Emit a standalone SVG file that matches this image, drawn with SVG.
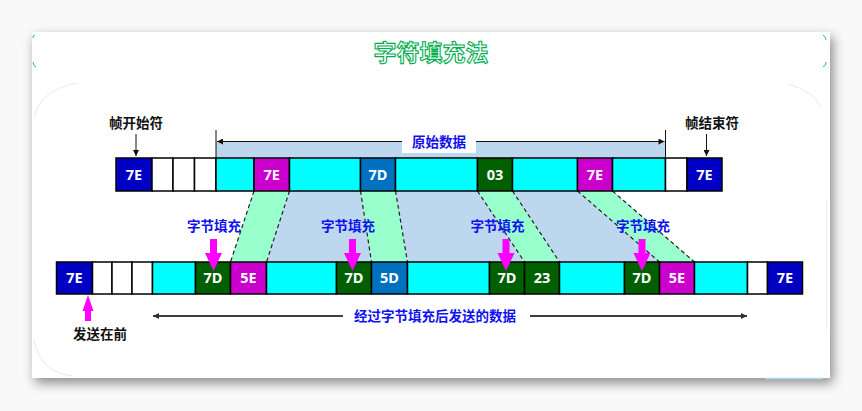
<svg xmlns="http://www.w3.org/2000/svg" width="862" height="411" viewBox="0 0 862 411">
<defs>
<style>
.cell{stroke:#000;stroke-width:1.5}
.w{fill:#fff}.c{fill:#00ffff}.b{fill:#0000c4}.b2{fill:#0070c0}.m{fill:#cc00cc}.g{fill:#006000}
.t{font-family:"Noto Sans","DejaVu Sans",sans-serif;font-weight:bold;font-size:14.5px;fill:#fff;text-anchor:middle}
.lbl{font-family:"Noto Sans CJK SC","Noto Sans",sans-serif;font-weight:bold;font-size:13.5px;text-anchor:middle}
.blk{fill:#111}
.blu{fill:#1010f0}
.dash{stroke:#222;stroke-width:1.2;stroke-dasharray:4 3;fill:none}
.pk{fill:#ff00ff}
</style>
<filter id="sh" x="-5%" y="-10%" width="112%" height="125%">
<feDropShadow dx="3" dy="5" stdDeviation="6" flood-color="#000" flood-opacity="0.45"/>
</filter>
<marker id="ah" viewBox="0 0 10 10" refX="10" refY="5" markerWidth="8" markerHeight="6" orient="auto-start-reverse" markerUnits="userSpaceOnUse">
<path d="M0,0 L10,5 L0,10 Z" fill="#111"/>
</marker>
<marker id="ah2" viewBox="0 0 10 10" refX="10" refY="5" markerWidth="9" markerHeight="6" orient="auto-start-reverse" markerUnits="userSpaceOnUse">
<path d="M0,0 L10,5 L0,10 Z" fill="#2a3038"/>
</marker>
</defs>
<rect x="0" y="0" width="862" height="411" fill="#f9f9f9"/>
<g id="panel">
<rect x="32" y="32" width="798" height="346" fill="#fff" filter="url(#sh)"/>
<path d="M35,35 Q32,36 33,38 M33,62 Q33,66 36,67 M823,35 Q826,37 826,40 M826,62 Q826,66 823,67" stroke="#20c070" stroke-width="1" fill="none"/>
<path d="M34,118 Q40,90 77,83 M788,84 Q815,92 820,106 M34,340 Q40,372 72,376" stroke="#e6eaf0" stroke-width="1" fill="none"/>
<line x1="765" y1="378.5" x2="823" y2="378.5" stroke="#a8d8f0" stroke-width="1.5"/>
<line x1="826.5" y1="200" x2="826.5" y2="330" stroke="#e4f0fa" stroke-width="1"/>
</g>
<g id="title">
<text x="431" y="61" font-family="Noto Sans CJK SC,sans-serif" font-weight="bold" font-size="23" text-anchor="middle" fill="#fff" stroke="#00b050" stroke-width="1.1">字符填充法</text>
</g>
<g id="connectors">
<polygon points="254,191 612.5,191 694.5,262 230.5,262" fill="#bdd7ee"/>
<polygon points="254,191 289.5,191 266.5,262 230.5,262" fill="#99ffcc"/>
<polygon points="360.5,191 395.5,191 407.5,262 371.5,262" fill="#99ffcc"/>
<polygon points="477.5,191 512.5,191 559.5,262 524.5,262" fill="#99ffcc"/>
<polygon points="577.5,191 612.5,191 694.5,262 659.5,262" fill="#99ffcc"/>
<path class="dash" d="M254,191 L230.5,262 M289.5,191 L266.5,262 M360.5,191 L371.5,262 M395.5,191 L407.5,262 M477.5,191 L524.5,262 M512.5,191 L559.5,262 M577.5,191 L659.5,262 M612.5,191 L694.5,262"/>
<rect x="216" y="141.5" width="449.5" height="16.5" fill="#bdd7ee"/>
<line x1="216" y1="130" x2="216" y2="158" stroke="#111" stroke-width="1"/>
<line x1="665.5" y1="130" x2="665.5" y2="158" stroke="#111" stroke-width="1"/>
<line x1="217" y1="141.5" x2="664.5" y2="141.5" stroke="#111" stroke-width="1" marker-start="url(#ah)" marker-end="url(#ah)"/>
<line x1="136" y1="134" x2="136" y2="156" stroke="#111" stroke-width="1" marker-end="url(#ah)"/>
<line x1="706.5" y1="134" x2="706.5" y2="156" stroke="#111" stroke-width="1" marker-end="url(#ah)"/>
<line x1="153" y1="316" x2="747" y2="316" stroke="#3a4048" stroke-width="2" marker-start="url(#ah2)" marker-end="url(#ah2)"/>
</g>
<g id="label-orig">
<rect x="402" y="133" width="74" height="20" fill="#fff"/>
<text class="lbl blu" x="439" y="147" font-size="14">原始数据</text>
</g>
<g id="label-start"><text class="lbl blk" x="136" y="128">帧开始符</text></g>
<g id="label-end"><text class="lbl blk" x="712" y="128">帧结束符</text></g>
<g id="top-row">
<rect class="cell b" x="116" y="158" width="36" height="33"/>
<rect class="cell w" x="152" y="158" width="21" height="33"/>
<rect class="cell w" x="173" y="158" width="21.5" height="33"/>
<rect class="cell w" x="194.5" y="158" width="21.5" height="33"/>
<rect class="cell c" x="216" y="158" width="38" height="33"/>
<rect class="cell m" x="254" y="158" width="35.5" height="33"/>
<rect class="cell c" x="289.5" y="158" width="71" height="33"/>
<rect class="cell b2" x="360.5" y="158" width="35" height="33"/>
<rect class="cell c" x="395.5" y="158" width="82" height="33"/>
<rect class="cell g" x="477.5" y="158" width="35" height="33"/>
<rect class="cell c" x="512.5" y="158" width="65" height="33"/>
<rect class="cell m" x="577.5" y="158" width="35" height="33"/>
<rect class="cell c" x="612.5" y="158" width="53" height="33"/>
<rect class="cell w" x="665.5" y="158" width="21.5" height="33"/>
<rect class="cell b" x="687" y="158" width="35" height="33"/>
<text class="t" x="134" y="179.5">7E</text>
<text class="t" x="271.8" y="179.5">7E</text>
<text class="t" x="378" y="179.5">7D</text>
<text class="t" x="495" y="179.5">03</text>
<text class="t" x="595" y="179.5">7E</text>
<text class="t" x="704.5" y="179.5">7E</text>
</g>
<g id="bottom-row">
<rect class="cell b" x="56.5" y="262" width="36" height="32"/>
<rect class="cell w" x="92.5" y="262" width="19.5" height="32"/>
<rect class="cell w" x="112" y="262" width="20" height="32"/>
<rect class="cell w" x="132" y="262" width="20.5" height="32"/>
<rect class="cell c" x="152.5" y="262" width="43" height="32"/>
<rect class="cell g" x="195.5" y="262" width="35" height="32"/>
<rect class="cell m" x="230.5" y="262" width="36" height="32"/>
<rect class="cell c" x="266.5" y="262" width="70" height="32"/>
<rect class="cell g" x="336.5" y="262" width="35" height="32"/>
<rect class="cell b2" x="371.5" y="262" width="36" height="32"/>
<rect class="cell c" x="407.5" y="262" width="82" height="32"/>
<rect class="cell g" x="489.5" y="262" width="35" height="32"/>
<rect class="cell g" x="524.5" y="262" width="35" height="32"/>
<rect class="cell c" x="559.5" y="262" width="65" height="32"/>
<rect class="cell g" x="624.5" y="262" width="35" height="32"/>
<rect class="cell m" x="659.5" y="262" width="35" height="32"/>
<rect class="cell c" x="694.5" y="262" width="53" height="32"/>
<rect class="cell w" x="747.5" y="262" width="20" height="32"/>
<rect class="cell b" x="767.5" y="262" width="35" height="32"/>
<text class="t" x="74.5" y="283">7E</text>
<text class="t" x="213" y="283">7D</text>
<text class="t" x="248.5" y="283">5E</text>
<text class="t" x="354" y="283">7D</text>
<text class="t" x="389.5" y="283">5D</text>
<text class="t" x="507" y="283">7D</text>
<text class="t" x="542" y="283">23</text>
<text class="t" x="642" y="283">7D</text>
<text class="t" x="677" y="283">5E</text>
<text class="t" x="785" y="283">7E</text>
</g>
<g id="stuff-1">
<text class="lbl blu" x="214" y="231">字节填充</text>
<polygon class="pk" points="210,239 217,239 217,253 222,253 213.5,271 205,253 210,253"/>
</g>
<g id="stuff-2">
<text class="lbl blu" x="348" y="231">字节填充</text>
<polygon class="pk" points="349,239 356,239 356,253 361,253 352.5,271 344,253 349,253"/>
</g>
<g id="stuff-3">
<text class="lbl blu" x="497.5" y="231">字节填充</text>
<polygon class="pk" points="502.5,239 509.5,239 509.5,253 514.5,253 506,271 497.5,253 502.5,253"/>
</g>
<g id="stuff-4">
<text class="lbl blu" x="643" y="231">字节填充</text>
<polygon class="pk" points="638.5,239 645.5,239 645.5,253 650.5,253 642,271 633.5,253 638.5,253"/>
</g>
<g id="send-first">
<polygon class="pk" points="88,295 93.5,311 91,311 91,321 85,321 85,311 82.5,311"/>
<text class="lbl blk" x="100" y="339">发送在前</text>
</g>
<g id="label-sent">
<rect x="343" y="306" width="187" height="20" fill="#fff"/>
<text class="lbl blu" x="435" y="321">经过字节填充后发送的数据</text>
</g>
</svg>
